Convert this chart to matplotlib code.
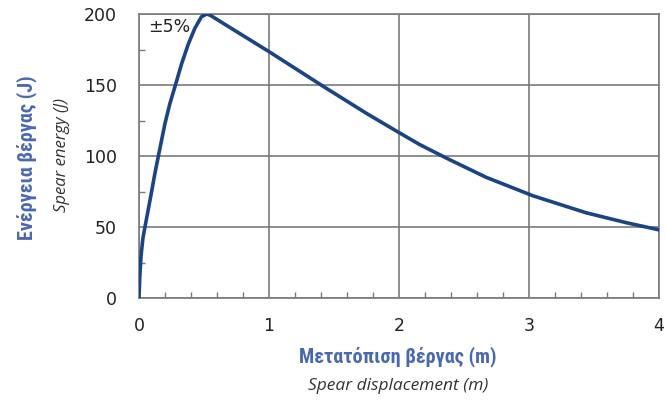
import numpy as np
import matplotlib.pyplot as plt
from matplotlib import font_manager
from matplotlib.ticker import MultipleLocator

# displacement (m) and spear energy (J)
disp = [0, 0.006, 0.016, 0.03, 0.05, 0.085, 0.123, 0.148, 0.2, 0.238, 0.277, 0.328,
        0.38, 0.43, 0.48, 0.52, 0.55, 0.726, 1.0, 1.418, 1.75, 2.0, 2.16, 2.367,
        2.67, 3.03, 3.44, 3.75, 4.0]
energy = [0, 15, 30, 42, 52, 69, 88, 99.5, 123, 137, 149, 165,
          179, 190, 198, 200, 199, 189, 173.5, 149, 130, 116.5, 108, 98.4,
          85, 72, 60, 53, 48]

x_ticks = [0, 1, 2, 3, 4]
y_ticks = [0, 50, 100, 150, 200]

blue = "#4a68b0"
line_col = "#1b4485"
grid_col = "#7a7a7a"

# look for a narrow bold face for the Greek titles
names = {f.name for f in font_manager.fontManager.ttflist}
narrow = None
for cand in ["Liberation Sans Narrow", "DejaVu Sans Condensed", "Roboto Condensed",
             "Open Sans Condensed"]:
    if cand in names:
        narrow = cand
        break
if narrow is None:
    for n in sorted(names):
        if "Narrow" in n or "Condensed" in n:
            narrow = n
            break
title_font = [narrow, "DejaVu Sans"] if narrow else ["DejaVu Sans"]
title_size = 14.5 if narrow else 12

fig = plt.figure(figsize=(6.66, 4.12), dpi=100)
ax = fig.add_axes([139/666, 1-298/412, 520/666, 284/412])

ax.plot(disp, energy, color=line_col, lw=2.6, solid_capstyle="round",
        solid_joinstyle="round", zorder=3)

ax.set_xlim(0, 4)
ax.set_ylim(0, 200)
ax.set_xticks(x_ticks)
ax.set_yticks(y_ticks)
ax.xaxis.set_minor_locator(MultipleLocator(0.2))
ax.yaxis.set_minor_locator(MultipleLocator(25))
ax.grid(True, which="major", color=grid_col, lw=1.2)
ax.tick_params(which="major", length=0, labelsize=12.5, colors="#222222")
ax.tick_params(which="minor", direction="in", length=4, color=grid_col, width=1)
ax.tick_params(axis="y", pad=16)
ax.tick_params(axis="x", pad=14)
for s in ax.spines.values():
    s.set_color(grid_col)
    s.set_linewidth(1.2)

ax.text(0.07, 197, "±5%", fontsize=12.5, color="#222222", va="top", ha="left")

fig.text(27/666, 1-158/412, "Ενέργεια βέργας (J)", rotation=90, ha="center", va="center",
         fontsize=title_size, fontweight="bold", fontstretch="condensed", color=blue,
         family=title_font)
fig.text(62/666, 1-155/412, "Spear energy (J)", rotation=90, ha="center", va="center",
         fontsize=12, fontstyle="italic", color="#333333", family=["Open Sans", "DejaVu Sans"])
fig.text(398/666, 1-357/412, "Μετατόπιση βέργας (m)", ha="center", va="center",
         fontsize=title_size, fontweight="bold", fontstretch="condensed", color=blue,
         family=title_font)
fig.text(398/666, 1-386/412, "Spear displacement (m)", ha="center", va="center",
         fontsize=12.5, fontstyle="italic", color="#333333", family=["Open Sans", "DejaVu Sans"])

fig.savefig("out.png", dpi=100)
